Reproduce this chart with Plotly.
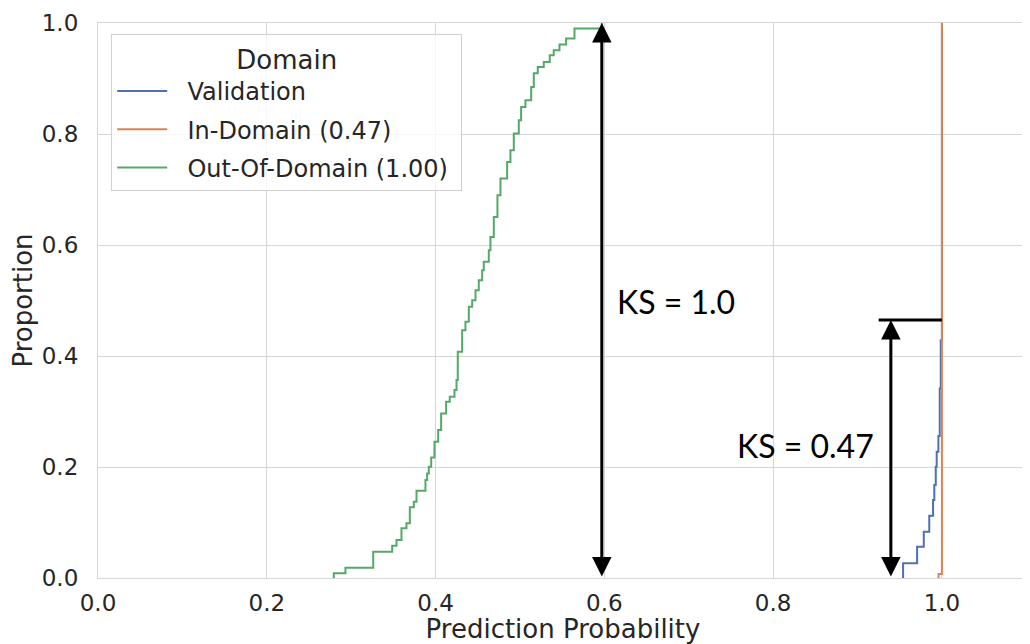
import plotly.graph_objects as go

# ---- data (ECDF step points: x, cumulative proportion) ----
val_x = [0.954, 0.9706, 0.9785, 0.985, 0.9895, 0.991, 0.9927, 0.9938, 0.9958, 0.9974, 0.9986, 1.0]
val_y = [0.0264, 0.0564, 0.0834, 0.112, 0.1405, 0.1675, 0.2005, 0.2275, 0.2557, 0.3416, 0.4286, 1.0]

ind_x = [0.996, 1.0]
ind_y = [0.007, 1.0]

ood_x = [0.2794, 0.2932, 0.3261, 0.3486, 0.3537, 0.3596, 0.3655, 0.3695, 0.3742, 0.3774,
         0.3880, 0.3900, 0.3920, 0.3948, 0.3987, 0.4031, 0.4066, 0.4125, 0.4168, 0.4224,
         0.4248, 0.4263, 0.4315, 0.4354, 0.4394, 0.4434, 0.4473, 0.4512, 0.4552, 0.4571,
         0.4631, 0.4650, 0.4690, 0.4733, 0.4769, 0.4848, 0.4887, 0.4927, 0.4986, 0.5014,
         0.5065, 0.5133, 0.5164, 0.5211, 0.5282, 0.5353, 0.5400, 0.5468, 0.5547, 0.5646,
         0.5970]
ood_y = [0.0085, 0.0186, 0.0474, 0.0582, 0.0684, 0.0895, 0.0985, 0.1273, 0.1374, 0.1572,
         0.1765, 0.1885, 0.2004, 0.2173, 0.2455, 0.2665, 0.2966, 0.3175, 0.3265, 0.3386,
         0.3566, 0.4075, 0.4466, 0.4616, 0.4886, 0.5006, 0.5186, 0.5366, 0.5547, 0.5696,
         0.5907, 0.6146, 0.6506, 0.6897, 0.7198, 0.7497, 0.7708, 0.8008, 0.8248, 0.8487,
         0.8608, 0.8848, 0.9094, 0.9208, 0.9298, 0.9418, 0.9508, 0.9611, 0.9719, 0.9899,
         1.0]

series_names = ["Validation", "In-Domain (0.47)", "Out-Of-Domain (1.00)"]
series_colors = ["#4c72b0", "#dd8452", "#55a868"]

ks_labels = ["KS = 1.0", "KS = 0.47"]
ks_arrow_x = [0.597, 0.9395]
ks_arrow_top = [1.0, 0.465]
ks_bar_x0 = 0.925
ks_label_x = [0.613, 0.7545]
ks_label_y = [0.499, 0.2395]

x_ticks = [0.0, 0.2, 0.4, 0.6, 0.8, 1.0]
y_ticks = [0.0, 0.2, 0.4, 0.6, 0.8, 1.0]


def ecdf_path(xs, ys):
    # start at zero level at first x, then hv steps
    return [xs[0]] + list(xs), [0.0] + list(ys)


fig = go.Figure()
for k, ((xs, ys), name, col) in enumerate(zip([(val_x, val_y), (ind_x, ind_y), (ood_x, ood_y)],
                                               series_names, series_colors)):
    px_, py_ = ecdf_path(xs, ys)
    fig.add_trace(go.Scatter(x=px_, y=py_, mode="lines", name="\u00a0\u00a0" + name + "\u00a0",
                             legendgroup=f"g{k}",
                             line=dict(color=col, width=2, shape="hv")))

text_col = "#262626"
grid_col = "#d6d6d6"

# KS arrows (double headed)
for i in range(2):
    fig.add_annotation(x=ks_arrow_x[i], y=ks_arrow_top[i], ax=ks_arrow_x[i], ay=0.0,
                       xref="x", yref="y", axref="x", ayref="y", text="",
                       showarrow=True, arrowhead=2, arrowsize=1.3, arrowwidth=3,
                       arrowside="end+start", arrowcolor="black", standoff=0, startstandoff=0)
    fig.add_annotation(x=ks_label_x[i], y=ks_label_y[i], xref="x", yref="y",
                       text=ks_labels[i], showarrow=False, xanchor="left", yanchor="middle",
                       font=dict(family="Lato", size=32, color="black"))

fig.add_shape(type="line", xref="x", yref="y", x0=ks_bar_x0, x1=1.0,
              y0=ks_arrow_top[1], y1=ks_arrow_top[1], line=dict(color="black", width=3))

fig.update_layout(
    width=1022, height=636,
    margin=dict(l=89.5, r=2.3, t=14.7, b=66, autoexpand=False),
    paper_bgcolor="white", plot_bgcolor="white",
    font=dict(family="DejaVu Sans", color=text_col),
    showlegend=True,
    legend=dict(
        title=dict(text="Domain", side="top center", font=dict(size=26, color=text_col)),
        font=dict(size=24, color=text_col),
        x=0.0142, y=0.98, xanchor="left", yanchor="top",
        bgcolor="rgba(255,255,255,0.8)", bordercolor="#d0d0d0", borderwidth=1,
        itemwidth=50, tracegroupgap=4,
    ),
)
fig.update_xaxes(range=[0, 1.102], tickvals=x_ticks, ticktext=[f"{v:.1f}" for v in x_ticks],
                 showgrid=True, gridcolor=grid_col, gridwidth=1.2, zeroline=False,
                 showline=True, linecolor=grid_col, linewidth=1.2, mirror=True,
                 ticks="outside", ticklen=4, tickcolor="rgba(0,0,0,0)",
                 tickfont=dict(size=23, color=text_col),
                 title=dict(text="Prediction Probability", font=dict(size=26, color=text_col), standoff=17))
fig.update_yaxes(range=[0, 1.0], tickvals=y_ticks, ticktext=[f"{v:.1f}" for v in y_ticks],
                 showgrid=True, gridcolor=grid_col, gridwidth=1.2, zeroline=False,
                 showline=True, linecolor=grid_col, linewidth=1.2, mirror=True,
                 ticks="outside", ticklen=14, tickcolor="rgba(0,0,0,0)",
                 tickfont=dict(size=23, color=text_col),
                 title=dict(text="Proportion", font=dict(size=26, color=text_col), standoff=1))

fig.write_html("out.html")
